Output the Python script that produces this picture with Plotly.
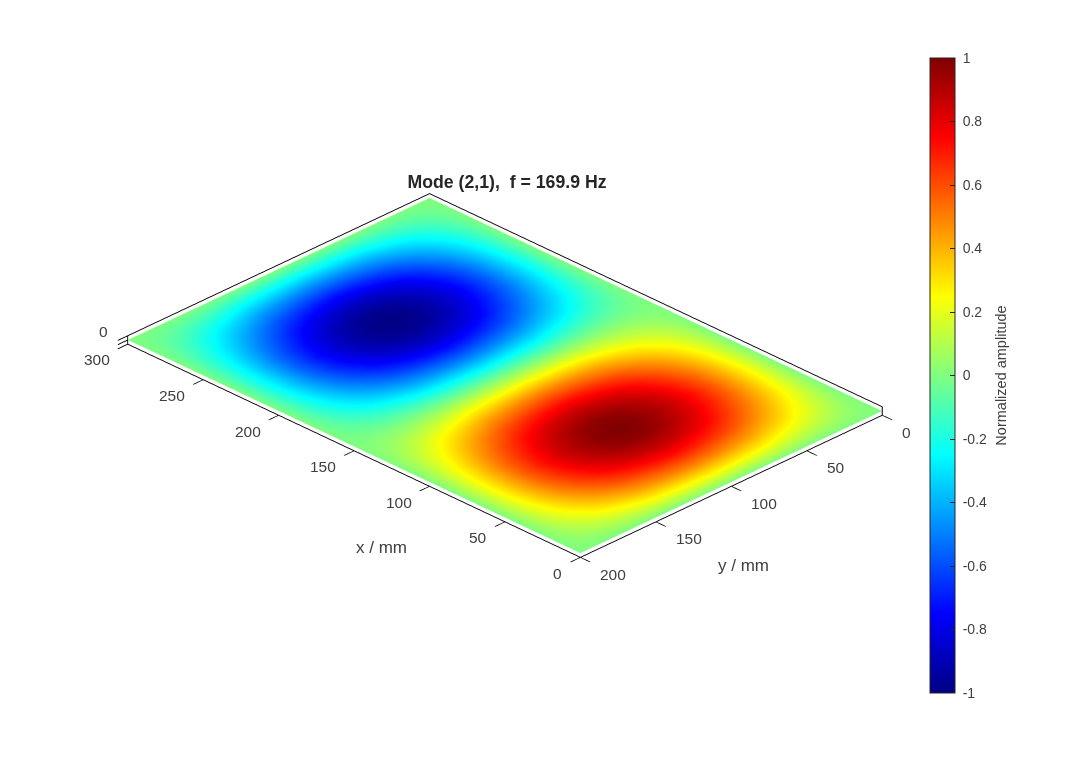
import plotly.graph_objects as go

# plate coordinates, mm
x_mm = [0, 12.5, 25, 37.5, 50, 62.5, 75, 87.5, 100, 112.5, 125, 137.5, 150,
        162.5, 175, 187.5, 200, 212.5, 225, 237.5, 250, 262.5, 275, 287.5, 300]
y_mm = [0, 12.5, 25, 37.5, 50, 62.5, 75, 87.5, 100, 112.5, 125, 137.5, 150,
        162.5, 175, 187.5, 200]

# normalized amplitude, one row per y
amp = [
 [0]*25,
 [0,.05,.10,.14,.17,.19,.20,.19,.17,.14,.10,.05,0,-.05,-.10,-.14,-.17,-.19,-.20,-.19,-.17,-.14,-.10,-.05,0],
 [0,.10,.19,.27,.33,.37,.38,.37,.33,.27,.19,.10,0,-.10,-.19,-.27,-.33,-.37,-.38,-.37,-.33,-.27,-.19,-.10,0],
 [0,.14,.28,.39,.48,.54,.56,.54,.48,.39,.28,.14,0,-.14,-.28,-.39,-.48,-.54,-.56,-.54,-.48,-.39,-.28,-.14,0],
 [0,.18,.35,.50,.61,.68,.71,.68,.61,.50,.35,.18,0,-.18,-.35,-.50,-.61,-.68,-.71,-.68,-.61,-.50,-.35,-.18,0],
 [0,.22,.42,.59,.72,.80,.83,.80,.72,.59,.42,.22,0,-.22,-.42,-.59,-.72,-.80,-.83,-.80,-.72,-.59,-.42,-.22,0],
 [0,.24,.46,.65,.80,.89,.92,.89,.80,.65,.46,.24,0,-.24,-.46,-.65,-.80,-.89,-.92,-.89,-.80,-.65,-.46,-.24,0],
 [0,.25,.49,.69,.85,.95,.98,.95,.85,.69,.49,.25,0,-.25,-.49,-.69,-.85,-.95,-.98,-.95,-.85,-.69,-.49,-.25,0],
 [0,.26,.50,.71,.87,.97,1.0,.97,.87,.71,.50,.26,0,-.26,-.50,-.71,-.87,-.97,-1.0,-.97,-.87,-.71,-.50,-.26,0],
 [0,.25,.49,.69,.85,.95,.98,.95,.85,.69,.49,.25,0,-.25,-.49,-.69,-.85,-.95,-.98,-.95,-.85,-.69,-.49,-.25,0],
 [0,.24,.46,.65,.80,.89,.92,.89,.80,.65,.46,.24,0,-.24,-.46,-.65,-.80,-.89,-.92,-.89,-.80,-.65,-.46,-.24,0],
 [0,.22,.42,.59,.72,.80,.83,.80,.72,.59,.42,.22,0,-.22,-.42,-.59,-.72,-.80,-.83,-.80,-.72,-.59,-.42,-.22,0],
 [0,.18,.35,.50,.61,.68,.71,.68,.61,.50,.35,.18,0,-.18,-.35,-.50,-.61,-.68,-.71,-.68,-.61,-.50,-.35,-.18,0],
 [0,.14,.28,.39,.48,.54,.56,.54,.48,.39,.28,.14,0,-.14,-.28,-.39,-.48,-.54,-.56,-.54,-.48,-.39,-.28,-.14,0],
 [0,.10,.19,.27,.33,.37,.38,.37,.33,.27,.19,.10,0,-.10,-.19,-.27,-.33,-.37,-.38,-.37,-.33,-.27,-.19,-.10,0],
 [0,.05,.10,.14,.17,.19,.20,.19,.17,.14,.10,.05,0,-.05,-.10,-.14,-.17,-.19,-.20,-.19,-.17,-.14,-.10,-.05,0],
 [0]*25,
]
flat = [[0]*25 for _ in y_mm]

x_ticks = [0, 50, 100, 150, 200, 250, 300]
y_ticks = [0, 50, 100, 150, 200]
cbar_ticks = [-1, -0.8, -0.6, -0.4, -0.2, 0, 0.2, 0.4, 0.6, 0.8, 1]

# matlab jet
jet = [[0, 'rgb(0,0,131)'], [0.125, 'rgb(0,0,255)'], [0.375, 'rgb(0,255,255)'],
       [0.625, 'rgb(255,255,0)'], [0.875, 'rgb(255,0,0)'], [1, 'rgb(128,0,0)']]

ink = '#404040'
axfont = dict(family='Liberation Sans', size=15.5, color=ink)
labelfont = dict(family='Liberation Sans', size=17, color=ink)

# the page body adds 8 px on the left and top of the figure
PAD = 8

fig = go.Figure(go.Surface(
    x=x_mm, y=y_mm, z=flat, surfacecolor=amp, colorscale=jet, cmin=-1, cmax=1,
    lighting=dict(ambient=1, diffuse=0, specular=0, fresnel=0),
    hoverinfo='skip',
    colorbar=dict(x=(930-PAD)/1080, xanchor='left', y=(87+PAD)/780, yanchor='bottom',
                  xpad=0, ypad=0,
                  len=635/780, thickness=25, outlinecolor='#262626', outlinewidth=1,
                  ticks='inside', ticklen=5, tickcolor='#262626',
                  tickvals=cbar_ticks,
                  ticktext=['\u00a0' + str(t) + '\u00a0' for t in cbar_ticks],  # labels sit a bit off the bar
                  tickfont=dict(family='Liberation Sans', size=14, color=ink),
                  title=dict(text='Normalized amplitude', side='right',
                             font=dict(family='Liberation Sans', size=14.5, color=ink))),
))


def axis(rng, ticks):
    return dict(title=dict(text=''), range=rng, tickvals=ticks, showticklabels=False,
                ticks='outside', ticklen=14, tickcolor='black', tickwidth=2,
                showgrid=False, zeroline=False, showbackground=False,
                showline=True, mirror=True, linecolor='black', linewidth=2,
                showspikes=False)


# tick labels hang off the plate edges, horizontal like the original
tick_labels = []
for t in x_ticks:
    tick_labels.append(dict(x=t, y=200, z=0, text=str(t), showarrow=False, font=axfont,
                            xanchor='right', yanchor='middle', xshift=-16, yshift=-20))
for t in y_ticks:
    tick_labels.append(dict(x=0, y=t, z=0, text=str(t), showarrow=False, font=axfont,
                            xanchor='left', yanchor='middle', xshift=18, yshift=-21))
tick_labels.append(dict(x=300, y=200, z=0, text='0', showarrow=False, font=axfont,
                        xanchor='right', yanchor='middle', xshift=-18, yshift=8))

fig.update_layout(
    width=1080, height=780,
    margin=dict(l=0, r=0, t=0, b=0),
    paper_bgcolor='white',
    title=dict(text='Mode (2,1),  f = 169.9 Hz', x=(507-PAD)/1080, xanchor='center',
               y=1-(182-PAD)/780, yanchor='middle',
               font=dict(family='Liberation Sans', size=17.7, color='#262626', weight=700)),
    scene=dict(
        domain=dict(x=[0, 0.9204], y=[0.0577, 1]),
        aspectmode='manual', aspectratio=dict(x=1.742, y=1.1615, z=0.026),
        xaxis=axis([0, 300], x_ticks),
        yaxis=axis([0, 200], y_ticks),
        zaxis=axis([-1, 1], [-1, 0, 1]),
        annotations=tick_labels,
        camera=dict(projection=dict(type='orthographic'), up=dict(x=0, y=0, z=1),
                    center=dict(x=0, y=0, z=0),
                    eye=dict(x=-0.80, y=0.80, z=0.604)),
    ),
    # axis titles stay horizontal here, gl3d would turn them along the axes
    annotations=[
        dict(text='x / mm', x=(382-PAD)/1080, y=1-(547-PAD)/780, xref='paper', yref='paper',
             xanchor='center', yanchor='middle', showarrow=False, font=labelfont),
        dict(text='y / mm', x=(743-PAD)/1080, y=1-(565-PAD)/780, xref='paper', yref='paper',
             xanchor='center', yanchor='middle', showarrow=False, font=labelfont),
    ],
)

fig.write_html("out.html")
